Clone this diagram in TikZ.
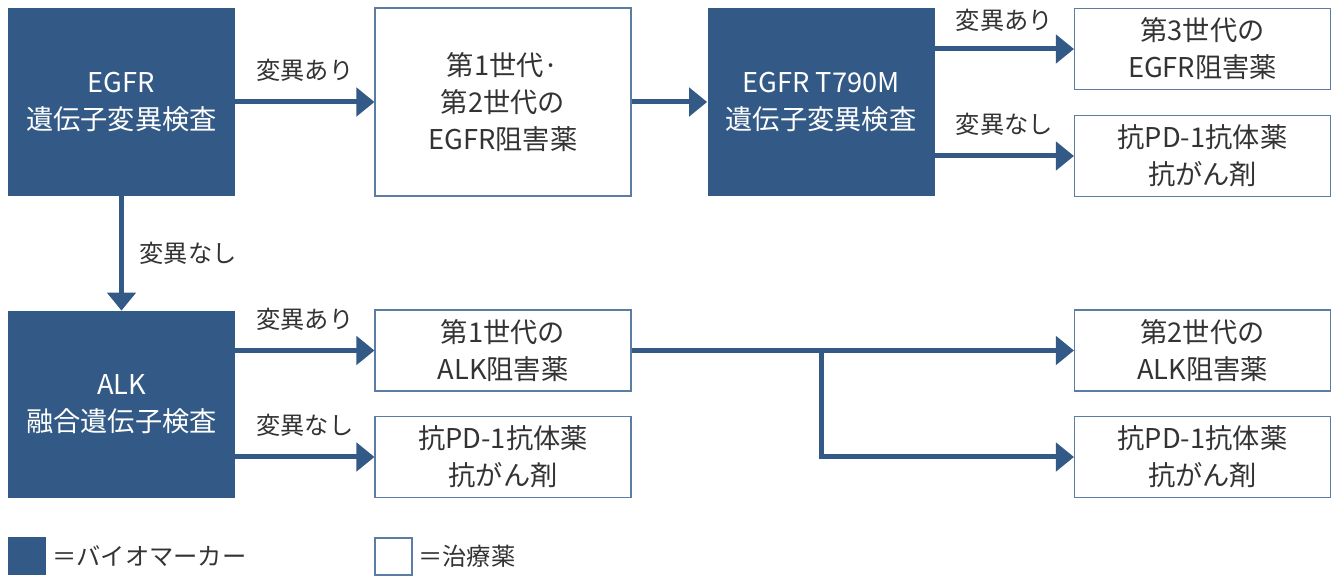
\documentclass[tikz,border=0pt]{standalone}
\usepackage{fontspec}
\setmainfont{Noto Sans CJK JP}
\usepackage{xcolor}
\usepackage{tikz}
\usetikzlibrary{
    arrows.meta,
    positioning
}
\definecolor{markerblue}{HTML}{335A86}
\definecolor{drugedge}{HTML}{5B7CA5}
\definecolor{textgray}{HTML}{333333}
\tikzstyle{markerbox} = [
    rectangle,
    minimum width=4.54cm,
    minimum height=3.76cm,
    inner sep=0pt,
    text centered,
    align=center,
    fill=markerblue,
    text=white,
    font=\fontsize{15.5pt}{21pt}\selectfont
]
\tikzstyle{drugbox} = [
    rectangle, draw=drugedge,
    line width=0.6pt,
    minimum width=5.12cm,
    minimum height=1.62cm,
    inner sep=0pt,
    text centered,
    align=center,
    fill=white,
    text=textgray,
    font=\fontsize{15.5pt}{21pt}\selectfont
]
\tikzstyle{arrow} = [
    draw=markerblue,
    line width=0.1cm,
    -{Triangle[length=0.36cm,width=0.56cm]}
]
\tikzstyle{arrowtext} = [
    inner sep=0pt,
    text=textgray,
    font=\fontsize{13.8pt}{16pt}\selectfont
]

\begin{document}
\begin{tikzpicture}
    \useasboundingbox (0,0) rectangle (26.66,11.52);

    % upper row
    \node[markerbox] (egfr)  at (2.43,9.48)  {EGFR\\遺伝子変異検査};
    \node[drugbox, minimum height=3.76cm] (gen12) at (10.06,9.48) {第1世代·\\第2世代の\\EGFR阻害薬};
    \node[markerbox] (t790m) at (16.42,9.48) {EGFR T790M\\遺伝子変異検査};
    \node[drugbox] (gen3) at (24.05,10.54) {第3世代の\\EGFR阻害薬};
    \node[drugbox] (pdA)  at (24.05,8.40)  {抗PD-1抗体薬\\抗がん剤};

    % lower row
    \node[markerbox, minimum height=3.74cm] (alk) at (2.43,3.43) {ALK\\融合遺伝子検査};
    \node[drugbox] (alk1) at (10.06,4.51) {第1世代の\\ALK阻害薬};
    \node[drugbox] (pdB)  at (10.06,2.38) {抗PD-1抗体薬\\抗がん剤};
    \node[drugbox] (alk2) at (24.05,4.51) {第2世代の\\ALK阻害薬};
    \node[drugbox] (pdC)  at (24.05,2.38) {抗PD-1抗体薬\\抗がん剤};

    % legend
    \node[markerbox, minimum width=0.76cm, minimum height=0.76cm] (keymarker) at (0.54,0.39) {};
    \node[arrowtext, anchor=west] (keymarkertext) at (1.04,0.39) {＝バイオマーカー};
    \node[drugbox, minimum width=0.74cm, minimum height=0.74cm] (keydrug) at (7.87,0.39) {};
    \node[arrowtext, anchor=west] (keydrugtext) at (8.36,0.39) {＝治療薬};

    % connectors
    \draw[arrow] (egfr) -- node[arrowtext, midway, above=0.35cm] {変異あり} (gen12);
    \draw[arrow] (gen12) -- (t790m);
    \draw[arrow] (t790m.east |- gen3.west) -- node[arrowtext, midway, above=0.3cm] {変異あり} (gen3.west);
    \draw[arrow] (t790m.east |- pdA.west) -- node[arrowtext, midway, above=0.35cm] {変異なし} (pdA.west);
    \draw[arrow] (egfr) -- node[arrowtext, midway, right=0.31cm] {変異なし} (alk);
    \draw[arrow] (alk.east |- alk1.west) -- node[arrowtext, midway, above=0.35cm] {変異あり} (alk1.west);
    \draw[arrow] (alk.east |- pdB.west) -- node[arrowtext, midway, above=0.35cm] {変異なし} (pdB.west);
    \coordinate (split) at (t790m.south |- alk1.east);
    \draw[arrow] (alk1) -- (alk2);
    \draw[arrow] (split) |- (pdC);
\end{tikzpicture}
\end{document}
